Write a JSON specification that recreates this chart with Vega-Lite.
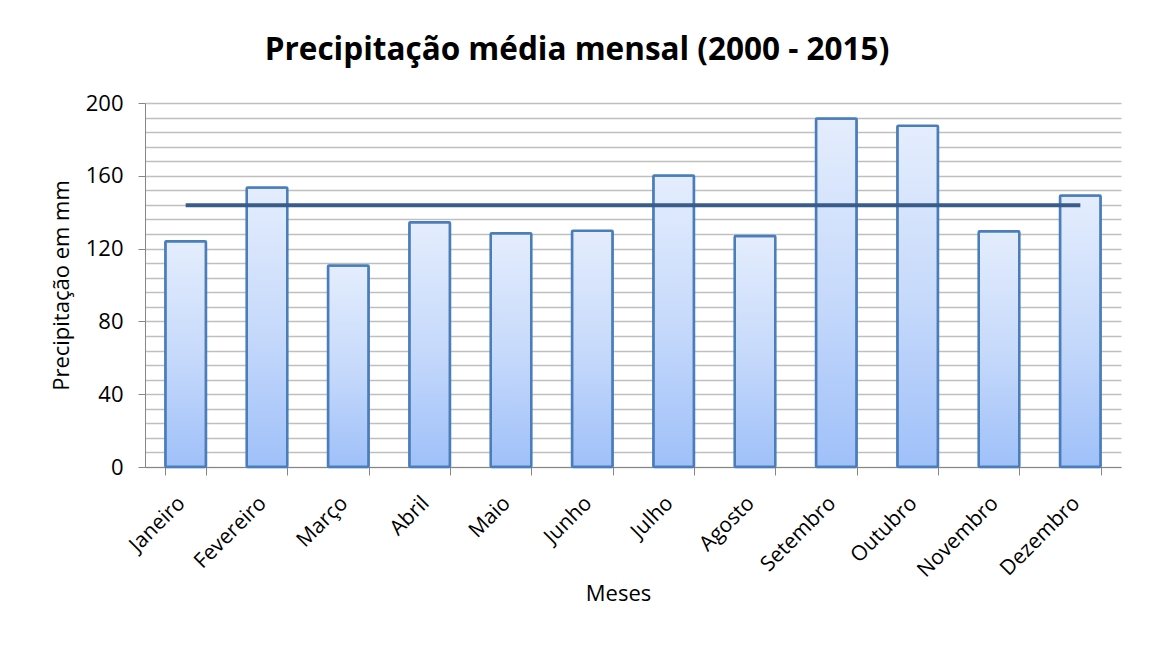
{
  "$schema": "https://vega.github.io/schema/vega-lite/v6.json",
  "autosize": "none",
  "width": 976,
  "height": 364,
  "padding": {"left": 145, "top": 103, "right": 28, "bottom": 193},
  "background": "white",
  "title": {
    "text": "Precipitação média mensal (2000 - 2015)",
    "font": "Open Sans",
    "fontSize": 31.5,
    "fontWeight": "bold",
    "color": "black",
    "anchor": "middle",
    "dx": -56,
    "offset": 26
  },
  "config": {
    "view": {"stroke": null},
    "axis": {"labelFont": "Open Sans", "titleFont": "Open Sans", "labelColor": "black", "titleColor": "black", "titleFontWeight": "normal", "domainColor": "#868686", "tickColor": "#868686"}
  },
  "data": {
    "values": [
      {"mes": "Janeiro", "precip": 124.0, "media": 143.8},
      {"mes": "Fevereiro", "precip": 153.6, "media": 143.8},
      {"mes": "Março", "precip": 110.7, "media": 143.8},
      {"mes": "Abril", "precip": 134.5, "media": 143.8},
      {"mes": "Maio", "precip": 128.5, "media": 143.8},
      {"mes": "Junho", "precip": 129.8, "media": 143.8},
      {"mes": "Julho", "precip": 160.2, "media": 143.8},
      {"mes": "Agosto", "precip": 126.9, "media": 143.8},
      {"mes": "Setembro", "precip": 191.5, "media": 143.8},
      {"mes": "Outubro", "precip": 187.5, "media": 143.8},
      {"mes": "Novembro", "precip": 129.6, "media": 143.8},
      {"mes": "Dezembro", "precip": 149.2, "media": 143.8}
    ]
  },
  "encoding": {
    "x": {
      "field": "mes", "type": "nominal", "sort": null,
      "scale": {"paddingInner": 0.5, "paddingOuter": 0.25},
      "axis": {
        "title": "Meses", "titleFontSize": 22, "labelFontSize": 21,
        "labelAngle": -45, "tickBand": "extent", "tickSize": 8,
        "labelPadding": 17, "labelOffset": -12, "grid": false,
        "titleX": 473, "titleY": 133, "titleBaseline": "alphabetic"
      }
    }
  },
  "layer": [
    {
      "mark": {
        "type": "bar",
        "stroke": "#4a7ebb",
        "strokeWidth": 2.5,
        "cornerRadius": 1,
        "fill": {
          "gradient": "linear", "x1": 0, "y1": 0, "x2": 0, "y2": 1,
          "stops": [
            {"offset": 0, "color": "#e4edfd"},
            {"offset": 0.5, "color": "#c7dafb"},
            {"offset": 1, "color": "#9fc0f9"}
          ]
        }
      },
      "encoding": {
        "y": {
          "field": "precip", "type": "quantitative",
          "scale": {"domain": [0, 200], "nice": false},
          "axis": {
            "title": "Precipitação em mm", "titleFontSize": 22, "labelFontSize": 22,
            "values": [0, 8, 16, 24, 32, 40, 48, 56, 64, 72, 80, 88, 96, 104, 112, 120, 128, 136, 144, 152, 160, 168, 176, 184, 192, 200],
            "labelExpr": "datum.value % 40 === 0 ? datum.label : ''",
            "labelOverlap": false,
            "tickOpacity": {"condition": {"test": "datum.value % 40 === 0", "value": 1}, "value": 0},
            "tickSize": 7, "labelPadding": 15, "titlePadding": 12,
            "grid": true, "gridColor": "#bfbfbf", "gridWidth": 1.5
          }
        }
      }
    },
    {
      "mark": {"type": "line", "color": "#385d8a", "strokeWidth": 4},
      "encoding": {
        "y": {"field": "media", "type": "quantitative", "scale": {"domain": [0, 200], "nice": false}, "axis": null}
      }
    }
  ],
  "resolve": {"axis": {"y": "independent"}}
}
